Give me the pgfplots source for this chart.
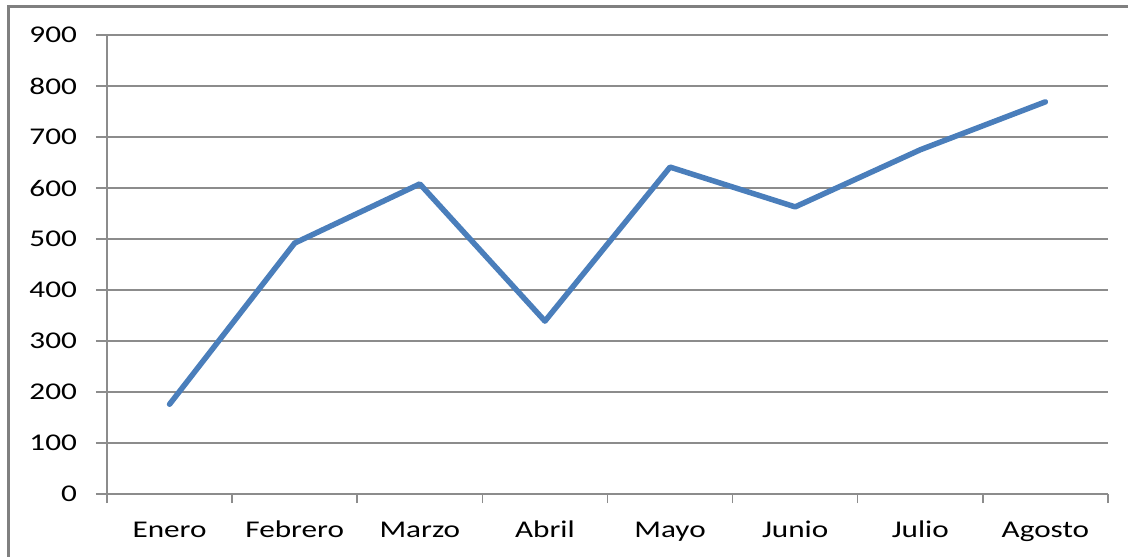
\documentclass[border=0pt]{standalone}
\usepackage{fontspec}
\setmainfont{Carlito}[FakeStretch=1.3]
\usepackage{pgfplots}
\pgfplotsset{compat=1.18}
\definecolor{serie}{RGB}{74,126,187}
\definecolor{gridc}{RGB}{140,140,140}
\definecolor{framec}{RGB}{128,128,128}
\begin{document}
\begin{tikzpicture}
\useasboundingbox (0,0) rectangle (564pt,278pt);
\draw[framec, line width=1.5pt] (4.25pt,-5pt) -- (4.25pt,274.5pt) -- (570pt,274.5pt);
\begin{axis}[
  at={(53.5pt,31pt)}, anchor=south west,
  scale only axis, width=500.5pt, height=229.5pt,
  xmin=-0.5, xmax=7.5, ymin=0, ymax=900,
  axis x line*=bottom, axis y line*=left,
  axis line style={gridc, line width=0.75pt, -},
  xtick={0,...,7},
  xticklabels={Enero,Febrero,Marzo,Abril,Mayo,Junio,Julio,Agosto},
  minor xtick={-0.5,0.5,...,7.5},
  major x tick style={draw=none},
  minor tick length=4.5pt,
  ytick={0,100,...,900},
  major tick length=5.5pt,
  tick align=outside,
  tick style={gridc, line width=0.75pt},
  ymajorgrids, grid style={gridc, line width=0.75pt},
  font=\fontsize{12}{14}\selectfont,
  /pgf/number format/assume math mode=true,
  yticklabel style={anchor=east, xshift=-6pt},
  xticklabel style={anchor=base, yshift=-16pt},
]
\addplot[serie, line width=2.75pt, line join=round, line cap=round] coordinates {
(0,176) (1,492) (2,608) (3,339) (4,641) (5,563) (6,675) (7,769)
};
\end{axis}
\end{tikzpicture}
\end{document}
